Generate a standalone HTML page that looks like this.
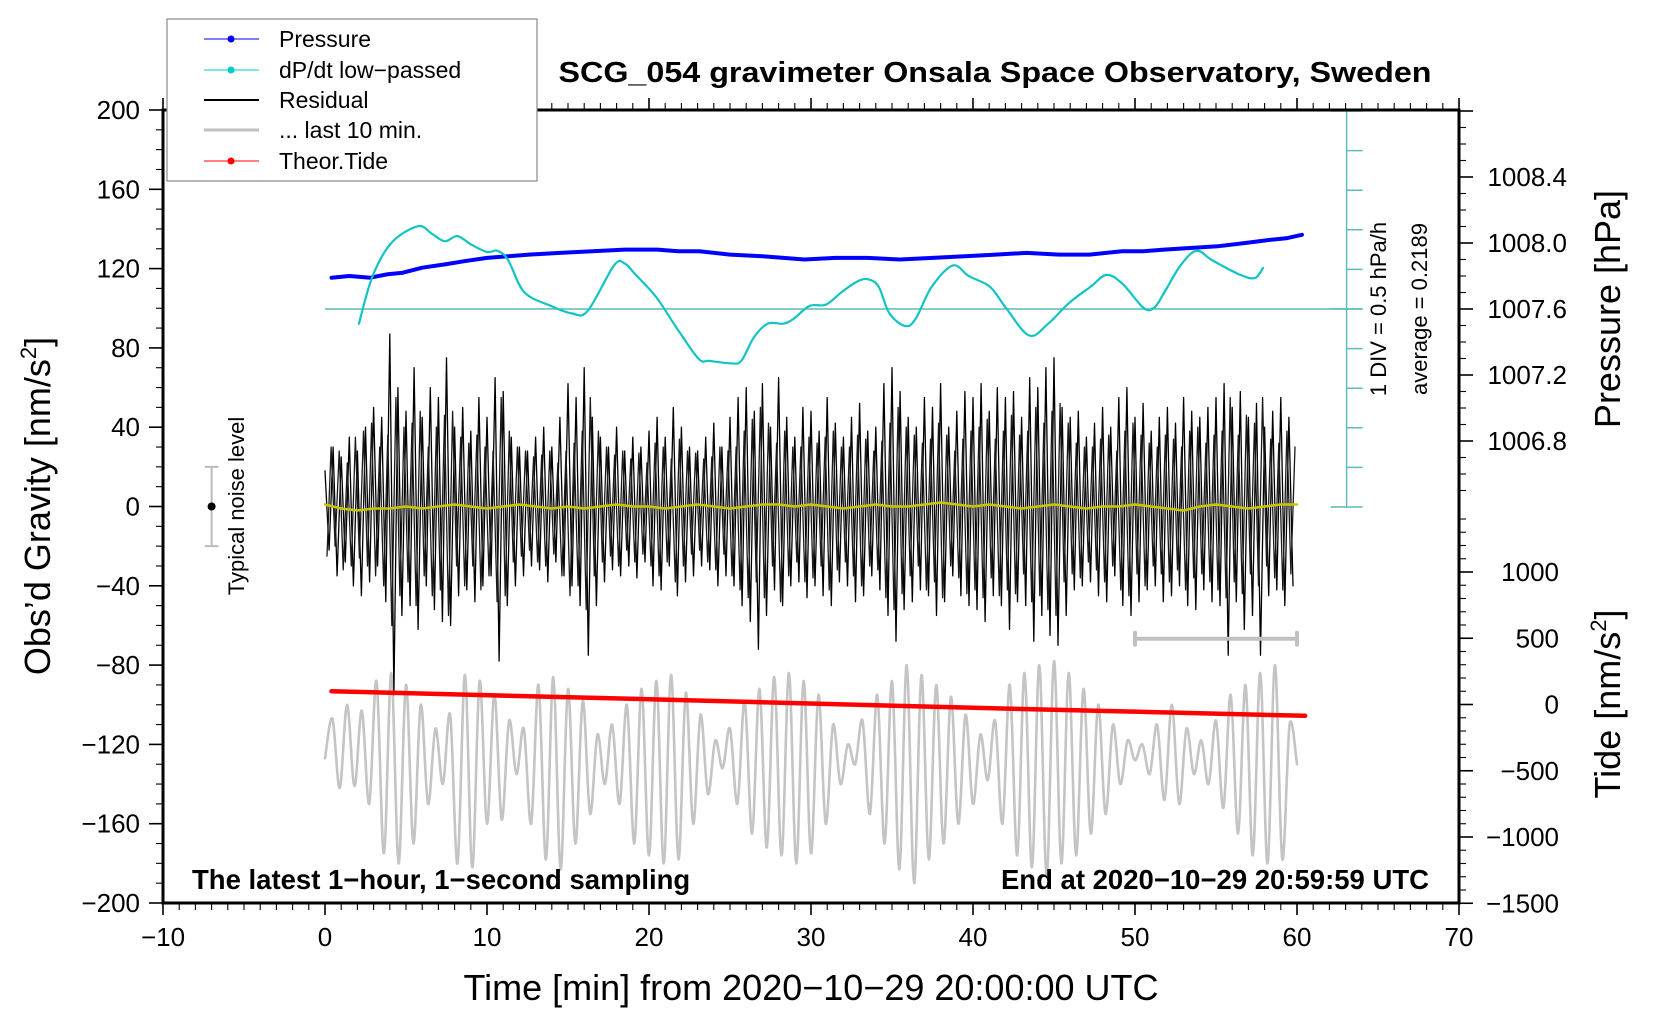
<!DOCTYPE html>
<html><head><meta charset="utf-8"><title>SCG_054 gravimeter</title>
<style>
html,body{margin:0;padding:0;background:#fff;}
svg{display:block;font-family:"Liberation Sans",Arial,sans-serif;}
</style></head>
<body>
<svg id="chart" width="1660" height="1020" viewBox="0 0 1660 1020" xmlns="http://www.w3.org/2000/svg">
<rect x="0" y="0" width="1660" height="1020" fill="#fff"/>
<g id="ticks"></g>
<g id="series"></g>
<rect x="163" y="110" width="1296" height="793" fill="none" stroke="#000" stroke-width="3"/>
<g id="labels"></g>
<text x="995" y="82" font-size="29" font-weight="bold" text-anchor="middle" textLength="873" lengthAdjust="spacingAndGlyphs">SCG_054 gravimeter Onsala Space Observatory, Sweden</text>
<text x="192" y="889" font-size="27.5" font-weight="bold">The latest 1−hour, 1−second sampling</text>
<text x="1429" y="889" font-size="27.5" font-weight="bold" text-anchor="end">End at 2020−10−29 20:59:59 UTC</text>
<text x="811" y="1000" font-size="36" text-anchor="middle">Time [min] from 2020−10−29 20:00:00 UTC</text>
<text transform="translate(50,506) rotate(-90)" font-size="36" text-anchor="middle">Obs’d Gravity [nm/s<tspan font-size="22" dy="-14">2</tspan><tspan dy="14">]</tspan></text>
<text transform="translate(1620,309) rotate(-90)" font-size="36" text-anchor="middle">Pressure [hPa]</text>
<text transform="translate(1620,704) rotate(-90)" font-size="36" text-anchor="middle">Tide [nm/s<tspan font-size="22" dy="-14">2</tspan><tspan dy="14">]</tspan></text>
<text transform="translate(1386,309) rotate(-90)" font-size="22" text-anchor="middle">1 DIV = 0.5 hPa/h</text>
<text transform="translate(1427,309) rotate(-90)" font-size="22" text-anchor="middle">average = 0.2189</text>
<text transform="translate(244,506) rotate(-90)" font-size="22" text-anchor="middle">Typical noise level</text>
<g>
<rect x="167" y="19" width="370" height="162" fill="#fff" stroke="#888" stroke-width="1.2"/>
<g><line x1="204" y1="39" x2="259" y2="39" stroke="#00f" stroke-width="1"/><circle cx="231" cy="39" r="3.5" fill="#00f"/><text x="279" y="47" font-size="23">Pressure</text></g>
<g><line x1="204" y1="70" x2="259" y2="70" stroke="#00cccc" stroke-width="1"/><circle cx="231" cy="70" r="3.5" fill="#00cccc"/><text x="279" y="78" font-size="23">dP/dt low−passed</text></g>
<g><line x1="204" y1="100" x2="259" y2="100" stroke="#000" stroke-width="2"/><text x="279" y="108" font-size="23">Residual</text></g>
<g><line x1="204" y1="130" x2="259" y2="130" stroke="#c0c0c0" stroke-width="3"/><text x="279" y="138" font-size="23">... last 10 min.</text></g>
<g><line x1="204" y1="161" x2="259" y2="161" stroke="#f00" stroke-width="1"/><circle cx="231" cy="161" r="3.5" fill="#f00"/><text x="279" y="169" font-size="23">Theor.Tide</text></g>
</g>
</svg>
<script>
// ---- data ----
const xTicks = [-10,0,10,20,30,40,50,60,70];
const yTicks = [200,160,120,80,40,0,-40,-80,-120,-160,-200];
const pTicks = [1008.4,1008.0,1007.6,1007.2,1006.8];
const tideTicks = [1000,500,0,-500,-1000,-1500];
const pressureT = [0.4,1.5,2.8,3.8,4.8,6,7.4,8.6,10,11.3,12.6,14.5,16.5,18.5,20.5,21.8,23.1,25,27,28.3,29.6,31.5,33.5,35.5,37.5,39.5,41.4,43.3,45.3,47.2,49.2,50.5,51.8,53.5,55.1,56.8,58.4,59.4,60.3];
const pressureV = [1007.79,1007.80,1007.79,1007.81,1007.82,1007.85,1007.87,1007.89,1007.91,1007.92,1007.93,1007.94,1007.95,1007.96,1007.96,1007.95,1007.95,1007.93,1007.92,1007.91,1007.90,1007.91,1007.91,1007.90,1007.91,1007.92,1007.93,1007.94,1007.93,1007.93,1007.95,1007.95,1007.96,1007.97,1007.98,1008.00,1008.02,1008.03,1008.05];
const dpdtT = [2.09,2.94,4.12,5.75,6.6,7.39,8.17,9.02,10.0,10.65,11.31,12.29,13.92,15.23,16.21,17.84,18.5,19.15,20.46,21.76,23.07,23.73,25.03,25.69,26.47,27.32,28.3,28.95,29.93,30.92,31.9,32.88,33.53,34.18,34.84,35.82,36.47,37.45,38.76,39.74,41.05,42.03,43.46,44.64,45.95,47.25,48.24,49.22,50.52,51.18,51.83,52.81,53.79,54.77,56.41,57.39,57.91];
const dpdtDiv = [-0.37,0.83,1.68,2.09,1.9,1.71,1.84,1.63,1.44,1.47,1.23,0.43,0.08,-0.11,-0.05,1.1,1.15,0.88,0.29,-0.51,-1.26,-1.31,-1.37,-1.31,-0.72,-0.37,-0.37,-0.24,0.08,0.11,0.43,0.7,0.75,0.56,-0.11,-0.43,-0.24,0.56,1.1,0.83,0.56,0.03,-0.67,-0.37,0.16,0.56,0.86,0.64,0.03,0.03,0.43,1.1,1.47,1.23,0.88,0.78,1.04];
const tideT = [0.4,20,40,60.5];
const tideV = [100,40,-25,-85];
const residual = [
18,-22,30,-35,25,-28,35,-40,28,-45,40,-38,50,-30,45,-48,87,-95,60,-55,
48,-50,70,-62,45,-40,60,-52,55,-58,75,-60,40,-45,50,-42,38,-48,55,-40,
45,-35,65,-78,58,-50,35,-40,30,-35,28,-30,35,-32,40,-38,30,-28,45,-35,
62,-40,55,-50,70,-75,45,-50,35,-38,30,-32,40,-35,28,-30,35,-36,30,-28,
38,-40,45,-42,35,-30,50,-45,40,-38,30,-35,28,-30,35,-32,42,-40,30,-35,
45,-40,55,-50,60,-58,48,-72,62,-55,40,-42,65,-50,45,-40,35,-38,50,-46,
48,-40,38,-45,55,-50,42,-38,35,-40,45,-48,52,-45,38,-35,40,-42,62,-55,
70,-68,58,-52,45,-48,40,-42,55,-45,50,-55,62,-48,40,-35,48,-45,58,-50,
55,-52,62,-58,48,-45,60,-50,55,-62,58,-48,45,-50,65,-68,60,-55,70,-65,
75,-70,50,-55,45,-42,48,-40,35,-38,42,-45,50,-48,40,-35,55,-50,60,-55,
45,-48,52,-42,38,-40,45,-48,50,-45,42,-40,55,-50,48,-52,45,-42,50,-48,
55,-50,62,-75,50,-48,58,-62,45,-55,52,-75,40,-45,48,-42,55,-50,45,-40];
const residualMid = [
-25,30,-20,28,-32,22,-30,35,-26,38,-30,42,-35,30,-40,36,-60,55,-45,40,
-38,42,-50,48,-35,30,-45,40,-42,46,-55,48,-30,35,-40,32,-30,36,-42,30,
-35,28,-48,55,-45,38,-28,30,-25,28,-22,25,-28,26,-30,28,-24,22,-35,28,
-45,32,-40,38,-52,55,-35,38,-28,30,-25,26,-30,28,-22,24,-28,27,-24,22,
-30,32,-35,30,-28,24,-38,34,-30,28,-24,27,-22,24,-28,25,-32,30,-24,28,
-35,30,-42,38,-46,44,-38,50,-46,42,-30,32,-48,38,-35,30,-28,30,-38,35,
-36,32,-30,35,-42,38,-32,30,-28,30,-35,36,-40,34,-30,28,-32,33,-46,42,
-52,50,-44,40,-35,36,-30,32,-42,34,-38,42,-46,36,-30,28,-36,34,-44,38,
-42,40,-46,44,-36,34,-45,38,-42,46,-44,36,-34,38,-48,50,-45,42,-52,48,
-55,52,-38,42,-34,32,-36,30,-28,30,-32,34,-38,36,-30,28,-42,38,-45,42,
-34,36,-40,32,-30,30,-34,36,-38,34,-32,30,-42,38,-36,40,-34,32,-38,36,
-42,38,-46,55,-38,36,-44,46,-34,42,-40,55,-30,34,-36,32,-42,38,-34,30];
const lowpass = [1,-1,-2,-1,-1,0,-1,0,1,0,-1,0,1,0,-1,0,-1,0,1,0,0,-1,0,1,0,-1,0,1,1,0,1,0,-1,0,1,0,0,1,2,1,0,1,0,-1,0,1,0,-1,0,0,1,0,-1,-2,0,1,0,-1,0,1,1];
const last10 = [-127,-107,-142,-100,-141,-103,-150,-88,-175,-84,-180,-90,-170,-100,-150,-112,-140,-105,-180,-85,-182,-88,-160,-95,-158,-108,-135,-112,-160,-90,-178,-86,-183,-92,-170,-98,-155,-115,-140,-110,-150,-100,-170,-92,-176,-88,-180,-85,-178,-94,-160,-105,-145,-118,-132,-112,-150,-98,-165,-92,-172,-86,-176,-84,-180,-88,-175,-95,-160,-110,-140,-120,-130,-108,-155,-95,-170,-88,-183,-80,-190,-85,-178,-90,-170,-96,-160,-105,-150,-115,-138,-108,-160,-90,-176,-84,-182,-80,-186,-78,-180,-84,-176,-92,-165,-100,-155,-110,-140,-118,-128,-120,-135,-110,-148,-100,-150,-112,-135,-118,-140,-108,-152,-95,-165,-90,-176,-84,-180,-80,-178,-110,-130];
const noiseBar = [-20,20];
const windowBar = [50,60,-66.7];

// ---- scales ----
const X0=163, X1=1459, Y0=110, Y1=903;
const xs = t => X0 + (t+10)*(X1-X0)/80;
const ys = v => Y0 + (200-v)*(Y1-Y0)/400;
const ps = p => 243 - (p-1008.0)*165;
const tds = v => 704.5 - v*0.1325;
const divs = d => 309 - d*39.6;

const NS="http://www.w3.org/2000/svg";
function mk(tag, parent){const e=document.createElementNS(NS,tag);parent.appendChild(e);return e;}
const gT=document.getElementById('ticks'), gS=document.getElementById('series'), gL=document.getElementById('labels');

function tick(x1,y1,x2,y2,w){const l=mk('line',gT);l.setAttribute('x1',x1);l.setAttribute('y1',y1);l.setAttribute('x2',x2);l.setAttribute('y2',y2);l.setAttribute('stroke','#000');l.setAttribute('stroke-width',w||1.3);

}
function label(x,y,txt,anchor,name){const t=mk('text',gL);t.setAttribute('x',x);t.setAttribute('y',y);t.setAttribute('font-size','26');t.setAttribute('text-anchor',anchor);t.textContent=txt;

}
const fmt = v => (v<0?'−':'')+Math.abs(v);

for(let t=-10;t<=70;t++){const major=(t%10===0);const x=xs(t);
  tick(x,Y1,x,Y1+(major?12:7),major?1.6:1.1);tick(x,Y0,x,Y0-(major?12:7),major?1.6:1.1);}
xTicks.forEach(t=>label(xs(t),946,fmt(t),'middle','x-tick-label'));
for(let v=-200;v<=200;v+=10){const major=(v%40===0);const y=ys(v);tick(X0,y,X0-(major?14:7),y,major?1.6:1.1);}
yTicks.forEach(v=>label(140,ys(v)+9,fmt(v),'end','y-tick-label'));
for(let k=0;k<=24;k++){const p=1008.8-k*0.1;const y=ps(p);if(y<Y0-1||y>506)continue;const major=(Math.round(p*10)%4===0);tick(X1,y,X1+(major?14:7),y,major?1.6:1.1);}
pTicks.forEach(p=>label(1567,ps(p)+9,p.toFixed(1),'end','pressure-tick-label'));
for(let v=-1500;v<=1500;v+=100){const y=tds(v);if(y<506||y>Y1+1)continue;const major=(v%500===0);tick(X1,y,X1+(major?14:7),y,major?1.6:1.1);}
tideTicks.forEach(v=>label(1559,tds(v)+9,fmt(v),'end','tide-tick-label'));

function path(d,stroke,w,name){const p=mk('path',gS);p.setAttribute('d',d);p.setAttribute('fill','none');p.setAttribute('stroke',stroke);p.setAttribute('stroke-width',w);p.setAttribute('stroke-linejoin','round');p.setAttribute('stroke-linecap','round');

return p;}
function smooth(pts){let d='M'+pts[0][0].toFixed(1)+','+pts[0][1].toFixed(1);
  for(let i=0;i<pts.length-1;i++){const p0=pts[Math.max(0,i-1)],p1=pts[i],p2=pts[i+1],p3=pts[Math.min(pts.length-1,i+2)];
    const c1=[p1[0]+(p2[0]-p0[0])/6,p1[1]+(p2[1]-p0[1])/6],c2=[p2[0]-(p3[0]-p1[0])/6,p2[1]-(p3[1]-p1[1])/6];
    d+=' C'+c1[0].toFixed(1)+','+c1[1].toFixed(1)+' '+c2[0].toFixed(1)+','+c2[1].toFixed(1)+' '+p2[0].toFixed(1)+','+p2[1].toFixed(1);}
  return d;}
function poly(pts){return 'M'+pts.map(p=>p[0].toFixed(1)+','+p[1].toFixed(1)).join(' L');}

(function(){const ax=xs(63)+1;
  const l=mk('line',gS);l.setAttribute('x1',ax);l.setAttribute('y1',Y0);l.setAttribute('x2',ax);l.setAttribute('y2',divs(-5));l.setAttribute('stroke','#5bbcbc');l.setAttribute('stroke-width','1.5');
  
  
  for(let k=-5;k<=5;k++){const t=mk('line',gS);const y=divs(k);const full=(k===-5||k===0||k===5);t.setAttribute('x1',full?ax-16:ax);t.setAttribute('x2',ax+16);t.setAttribute('y1',y);t.setAttribute('y2',y);t.setAttribute('stroke','#5bbcbc');t.setAttribute('stroke-width','1.5');
    
    }
  const z=mk('line',gS);z.setAttribute('x1',xs(0));z.setAttribute('x2',ax+16);z.setAttribute('y1',divs(0));z.setAttribute('y2',divs(0));z.setAttribute('stroke','#5bbcbc');z.setAttribute('stroke-width','1.5');
  
  
})();

path(smooth(last10.map((v,i)=>[xs(i*60/(last10.length-1)),ys(v)])),'#c4c4c4',2.6,'last-10-min-line');
// residual: two offset sample sets, drawn as overlapping traces
path(poly(residual.map((v,i)=>[xs(i*0.25),ys(v)])),'#000',1.3,'residual-line');
path(poly(residualMid.map((v,i)=>[xs(i*0.25+0.125),ys(v)])),'#1a1a1a',1.3,'residual-line-interleaved');
path(poly(lowpass.map((v,i)=>[xs(i),ys(v)])),'#c8c800',2.6,'residual-lowpass-line');
path(poly(tideT.map((t,i)=>[xs(t),tds(tideV[i])])),'#ff0000',4.5,'theor-tide-line');
path(poly(pressureT.map((t,i)=>[xs(t),ps(pressureV[i])])),'#0000ff',4,'pressure-line');
path(smooth(dpdtT.map((t,i)=>[xs(t),divs(dpdtDiv[i])])),'#11c4c4',2.2,'dpdt-line');

(function(){const x=xs(-7);
  path('M'+x+','+ys(noiseBar[0])+' L'+x+','+ys(noiseBar[1])+' M'+(x-6)+','+ys(noiseBar[0])+' L'+(x+6)+','+ys(noiseBar[0])+' M'+(x-6)+','+ys(noiseBar[1])+' L'+(x+6)+','+ys(noiseBar[1]),'#bbb',2,'noise-error-bar');
  const c=mk('circle',gS);c.setAttribute('cx',x);c.setAttribute('cy',ys(0));c.setAttribute('r',4);c.setAttribute('fill','#000');
  
  
  const y=ys(windowBar[2]);const a=xs(windowBar[0]),b=xs(windowBar[1]);
  path('M'+a+','+y+' L'+b+','+y+' M'+a+','+(y-6)+' L'+a+','+(y+6)+' M'+b+','+(y-6)+' L'+b+','+(y+6),'#c0c0c0',4,'last-10-min-bracket');
})();
</script>
</body></html>
